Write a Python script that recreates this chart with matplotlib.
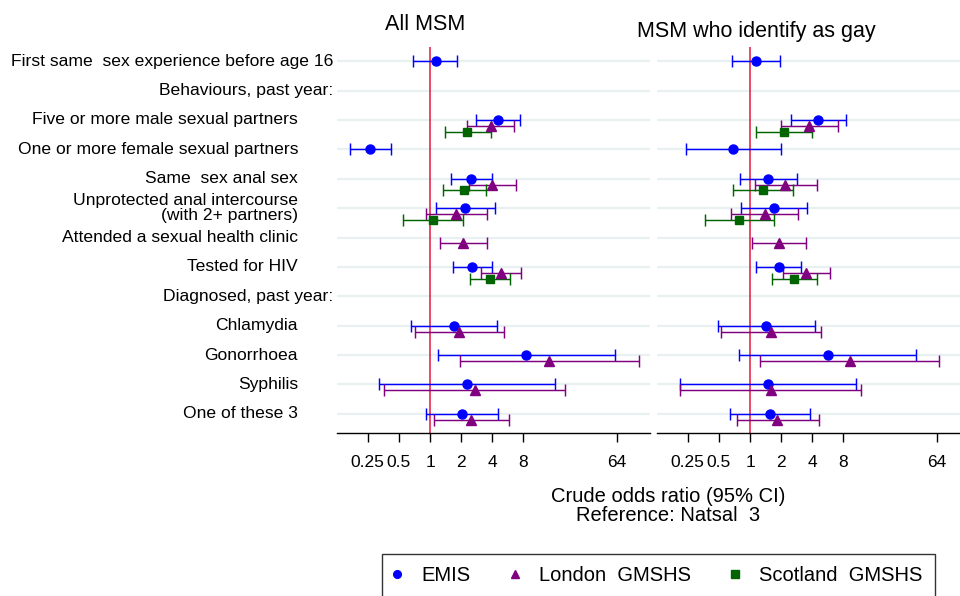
import numpy as np
import matplotlib
matplotlib.use("Agg")
import matplotlib.pyplot as plt
from matplotlib.transforms import blended_transform_factory

plt.rcParams['font.family'] = ['Liberation Sans', 'DejaVu Sans']

nan = np.nan

categories = [
    "First same  sex experience before age 16",
    "Behaviours, past year:",
    "Five or more male sexual partners",
    "One or more female sexual partners",
    "Same  sex anal sex",
    "Unprotected anal intercourse\n(with 2+ partners)",
    "Attended a sexual health clinic",
    "Tested for HIV",
    "Diagnosed, past year:",
    "Chlamydia",
    "Gonorrhoea",
    "Syphilis",
    "One of these 3",
]
is_header = [True, True, False, False, False, False, False, False, True,
             False, False, False, False]

panel_titles = ["All MSM", "MSM who identify as gay"]
series_names = ["EMIS", "London  GMSHS", "Scotland  GMSHS"]

# ---- All MSM ----
all_emis_or = [1.13, nan, 4.55, 0.26, 2.5, 2.18, nan, 2.57, nan, 1.69, 8.5, 2.26, 2.02]
all_emis_lo = [0.69, nan, 2.77, 0.17, 1.58, 1.13, nan, 1.68, nan, 0.65, 1.19, 0.32, 0.91]
all_emis_hi = [1.83, nan, 7.4, 0.42, 4.0, 4.22, nan, 3.98, nan, 4.4, 61, 16.3, 4.5]
all_lon_or = [nan, nan, 3.9, nan, 4.0, 1.79, 2.1, 4.87, nan, 1.92, 14.2, 2.71, 2.51]
all_lon_lo = [nan, nan, 2.3, nan, 2.37, 0.91, 1.25, 3.09, nan, 0.72, 1.97, 0.36, 1.09]
all_lon_hi = [nan, nan, 6.5, nan, 6.8, 3.54, 3.54, 7.66, nan, 5.2, 106, 20.4, 5.8]
all_sco_or = [nan, nan, 2.3, nan, 2.15, 1.07, nan, 3.8, nan, nan, nan, nan, nan]
all_sco_lo = [nan, nan, 1.4, nan, 1.33, 0.55, nan, 2.44, nan, nan, nan, nan, nan]
all_sco_hi = [nan, nan, 3.87, nan, 3.48, 2.1, nan, 5.95, nan, nan, nan, nan, nan]

# ---- MSM who identify as gay ----
gay_emis_or = [1.13, nan, 4.56, 0.69, 1.5, 1.70, nan, 1.89, nan, 1.43, 5.7, 1.5, 1.56]
gay_emis_lo = [0.67, nan, 2.49, 0.24, 0.80, 0.81, nan, 1.15, nan, 0.49, 0.79, 0.21, 0.64]
gay_emis_hi = [1.93, nan, 8.4, 2.01, 2.83, 3.58, nan, 3.12, nan, 4.3, 40.8, 10.7, 3.84]
gay_lon_or = [nan, nan, 3.73, nan, 2.2, 1.39, 1.91, 3.45, nan, 1.60, 9.2, 1.6, 1.84]
gay_lon_lo = [nan, nan, 2.01, nan, 1.12, 0.65, 1.04, 2.08, nan, 0.52, 1.25, 0.21, 0.74]
gay_lon_hi = [nan, nan, 7.1, nan, 4.45, 2.93, 3.45, 5.9, nan, 4.9, 67.6, 11.9, 4.66]
gay_sco_or = [nan, nan, 2.12, nan, 1.35, 0.79, nan, 2.66, nan, nan, nan, nan, nan]
gay_sco_lo = [nan, nan, 1.14, nan, 0.69, 0.37, nan, 1.62, nan, nan, nan, nan, nan]
gay_sco_hi = [nan, nan, 4.0, nan, 2.61, 1.70, nan, 4.49, nan, nan, nan, nan, nan]

xticks = [0.25, 0.5, 1, 2, 4, 8, 64]
xtick_labels = ["0.25", "0.5", "1", "2", "4", "8", "64"]

panels = [
    [(all_emis_or, all_emis_lo, all_emis_hi),
     (all_lon_or, all_lon_lo, all_lon_hi),
     (all_sco_or, all_sco_lo, all_sco_hi)],
    [(gay_emis_or, gay_emis_lo, gay_emis_hi),
     (gay_lon_or, gay_lon_lo, gay_lon_hi),
     (gay_sco_or, gay_sco_lo, gay_sco_hi)],
]

colors = ["#0000ff", "#800080", "#006400"]
markers = ["o", "^", "s"]
msizes = [6.5, 7.0, 6.0]
offsets = [0.0, 0.2, 0.4]

W, H = 960, 596
fig = plt.figure(figsize=(9.6, 5.96), dpi=100)

ax_top, ax_bot = 47, 433
ax_specs = [(337, 650, -2.99, 7.07), (657, 960, -2.99, 6.75)]
axes = []
for (x0, x1, l0, l1) in ax_specs:
    ax = fig.add_axes([x0 / W, 1 - ax_bot / H, (x1 - x0) / W, (ax_bot - ax_top) / H])
    ax.set_xscale('log', base=2)
    ax.set_xlim(2 ** l0, 2 ** l1)
    ax.set_ylim(12.65, -0.48)
    axes.append(ax)

rows = np.arange(len(categories))
handles = []
for pi, ax in enumerate(axes):
    for r in rows:
        ax.axhline(r, color="#e9f0f2", lw=1.6, zorder=0)
    ax.axvline(1, color="#e3173e", lw=1.1, zorder=1)
    for si, (orv, lo, hi) in enumerate(panels[pi]):
        orv = np.array(orv, float); lo = np.array(lo, float); hi = np.array(hi, float)
        y = rows + offsets[si]
        m = ~np.isnan(orv)
        ax.errorbar(orv[m], y[m], xerr=[orv[m] - lo[m], hi[m] - orv[m]], fmt='none',
                    ecolor=colors[si], elinewidth=1.05, capsize=4.0, capthick=1.05, zorder=2)
        h, = ax.plot(orv[m], y[m], linestyle='none', marker=markers[si],
                     color=colors[si], markersize=msizes[si], zorder=3,
                     label=series_names[si])
        if pi == 0:
            handles.append(h)
    for s in ['top', 'left', 'right']:
        ax.spines[s].set_visible(False)
    ax.spines['bottom'].set_linewidth(1.0)
    ax.set_yticks([])
    ax.set_xticks(xticks)
    ax.set_xticklabels(xtick_labels)
    ax.xaxis.set_minor_locator(matplotlib.ticker.NullLocator())
    ax.tick_params(axis='x', length=6.5, width=1.0, labelsize=12.5, pad=9)

# row labels
trans = blended_transform_factory(fig.transFigure, axes[0].transData)
for r, (lab, hd) in enumerate(zip(categories, is_header)):
    xp = 333 if hd else 298
    axes[0].text(xp / W, r, lab, transform=trans, ha='right', va='center',
                 fontsize=12.6, linespacing=0.95, multialignment='right')

# titles
fig.text(425 / W, 1 - 25 / H, panel_titles[0], ha='center', va='center', fontsize=15.5)
fig.text(756 / W, 1 - 31 / H, panel_titles[1], ha='center', va='center', fontsize=15.5)

# x label
fig.text(668 / W, 1 - 506 / H, "Crude odds ratio (95% CI)\nReference: Natsal  3",
         ha='center', va='center', fontsize=14.5, linespacing=1.0)

leg = fig.legend(handles=handles, loc='upper left', bbox_to_anchor=(382 / W, 1 - 554 / H),
                 ncol=3, fontsize=14.5, frameon=True, fancybox=False, edgecolor='black',
                 borderpad=0.6, handlelength=0.3, handletextpad=1.05, columnspacing=2.05,
                 borderaxespad=0, numpoints=1, markerscale=0.85)
leg.get_frame().set_linewidth(1.0)

fig.savefig("out.png", dpi=100)
